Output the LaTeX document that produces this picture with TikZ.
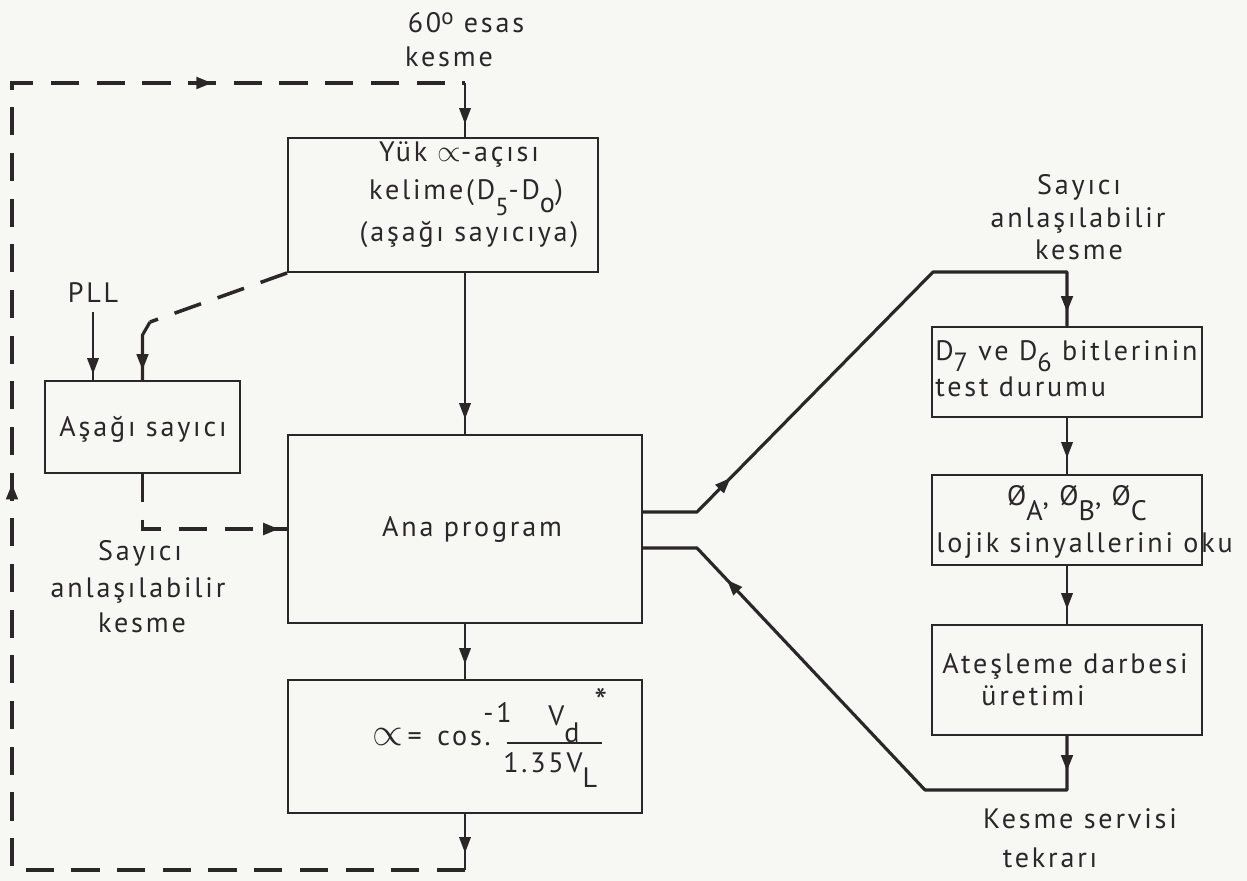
\documentclass[tikz,border=0pt]{standalone}
\usepackage{fontspec}
\usepackage{graphicx}
\setmainfont[LetterSpace=10]{PT Sans}
\usetikzlibrary{arrows.meta,decorations.markings,fit}
\definecolor{ink}{RGB}{42,40,38}
\definecolor{paper}{RGB}{247,248,244}
\newcommand\lowsub[2]{\raisebox{-#1}{#2}}
\tikzset{
  box/.style={draw, line width=1.1pt, inner sep=0pt},
  lbl/.style={inner sep=0pt, anchor=base},
  lblw/.style={inner sep=0pt, anchor=base west},
  conn/.style={line width=1.1pt},
  heavy/.style={line width=1.8pt, line join=round},
  dashln/.style={line width=2pt, dash pattern=on 16pt off 10pt},
  markat/.style={postaction={decorate,decoration={markings,
      mark=at position #1 with {\arrow{Triangle[length=9pt,width=6.5pt]}}}}}
}
\begin{document}
\begin{tikzpicture}[x=0.02cm, y=-0.02cm, color=ink,
    font=\fontsize{16}{19}\selectfont]
  \fill[paper] (0,0) rectangle (1247,881);

  % blocks
  \node[box, fit={(288,138) (598,272)}] (yuk) {};
  \node[box, fit={(45,381) (240,473)}] (asagi) {};
  \node[box, fit={(288,435) (642,623)}] (ana) {};
  \node[box, fit={(288,680) (642,813)}] (fbox) {};
  \node[box, fit={(932,327) (1202,417)}] (d7) {};
  \node[box, fit={(932,475) (1202,565)}] (phi) {};
  \node[box, fit={(932,625) (1202,735)}] (ates) {};

  % labels
  \node[lbl] (t60) at (466,33) {60\raisebox{5pt}{\fontsize{13}{13}\selectfont o}\ esas};
  \node[lbl] (tkesme) at (449,67) {kesme};
  \node[lbl] (tyuk1) at (459,162) {Yük $\propto$-açısı};
  \node[lbl] (tyuk2) at (466,200) {kelime(D\lowsub{9pt}{\fontsize{14}{14}\selectfont 5}-D\lowsub{7pt}{o})};
  \node[lbl] (tyuk3) at (469,242) {(aşağı sayıcıya)};
  \node[lbl] (tana) at (472,536) {Ana program};
  \node[lbl] (tasagi) at (143,437) {Aşağı sayıcı};
  \node[lbl] (tpll) at (93,303) {PLL};
  \node[lbl] (tsay1) at (140,560) {Sayıcı};
  \node[lbl] (tsay2) at (138,597) {anlaşılabilir};
  \node[lbl] (tsay3) at (142,632) {kesme};
  \node[lbl] (rsay1) at (1079,195) {Sayıcı};
  \node[lbl] (rsay2) at (1078,228) {anlaşılabilir};
  \node[lbl] (rsay3) at (1079,260) {kesme};
  \node[lblw] (td7a) at (935,361) {D\lowsub{6pt}{\fontsize{15}{15}\selectfont 7} ve D\lowsub{6pt}{\fontsize{15}{15}\selectfont 6} bitlerinin};
  \node[lblw] (td7b) at (935,397) {test durumu};
  \node[lbl] (tphi1) at (1077,505) {Ø\lowsub{9pt}{A}, Ø\lowsub{9pt}{B}, Ø\lowsub{9pt}{C}};
  \node[lblw] (tphi2) at (936,552) {lojik sinyallerini oku};
  \node[lbl] (tates1) at (1065,673) {Ateşleme darbesi};
  \node[lbl] (tates2) at (1033,705) {üretimi};
  \node[lbl] (tkes1) at (1080,828) {Kesme servisi};
  \node[lbl] (tkes2) at (1050,867) {tekrarı};

  % formula
  \node[lblw] (fa) at (372,745) {\scalebox{1.3}{$\propto$}\,= };
  \node[lblw] (fcos) at (437,745) {cos.};
  \node[lblw] (fexp) at (483,722) {-1};
  \node[lblw] (fnum) at (548,725) {V\lowsub{10pt}{d}};
  \node[lblw] (fstar) at (594,714) {\scalebox{1.3}{*}};
  \node[lblw] (fden) at (503,772) {1.35V\lowsub{9pt}{L}};
  \draw[conn] (507,743) -- (602,743);

  % bend points
  \coordinate (loopA) at (465,870);
  \coordinate (loopB) at (12,870);
  \coordinate (loopC) at (12,83);
  \coordinate (loopD) at (465,83);
  \coordinate (bendA) at (150,322);
  \coordinate (bendB) at (142.5,335);
  \coordinate (up1) at (697,512);
  \coordinate (up2) at (933,272);
  \coordinate (lo1) at (1067,790);
  \coordinate (lo2) at (925,790);
  \coordinate (lo3) at (697,548);

  % main loop
  \draw[conn, markat=-0.34cm] (fbox.south) -- (loopA);
  \draw[dashln, markat=16.79cm, markat=28.81cm] (loopA) -- (loopB) -- (loopC) -- (loopD);
  \draw[conn, markat=-0.26cm] (loopD) -- (yuk.north -| loopD);
  \draw[conn, markat=-0.3cm] (yuk.south -| ana.north) -- (ana.north);
  \draw[conn, markat=-0.3cm] (ana.south) -- (fbox.north);

  % down counter
  \draw[dashln] (yuk.south west) -- (bendA);
  \draw[heavy, markat=-0.2cm] (bendA) -- (bendB) -- (asagi.north);
  \draw[conn, markat=-0.12cm] ([yshift=-5pt]tpll.south) -- (asagi.north -| tpll.south);
  \draw[dashln, markat=-0.16cm] (asagi.south) |- (ana.west);

  % interrupt service
  \draw[heavy, markat=2.04cm, markat=-0.28cm]
    (ana.east |- up1) -- (up1) -- (up2) -- (d7.north |- up2) -- (d7.north);
  \draw[conn, markat=-0.32cm] (d7.south) -- (phi.north);
  \draw[conn, markat=-0.3cm] (phi.south) -- (ates.north);
  \draw[heavy, markat=0.7cm, markat=9.7cm]
    (ates.south) -- (lo1) -- (lo2) -- (lo3) -- (ana.east |- lo3);
\end{tikzpicture}
\end{document}
